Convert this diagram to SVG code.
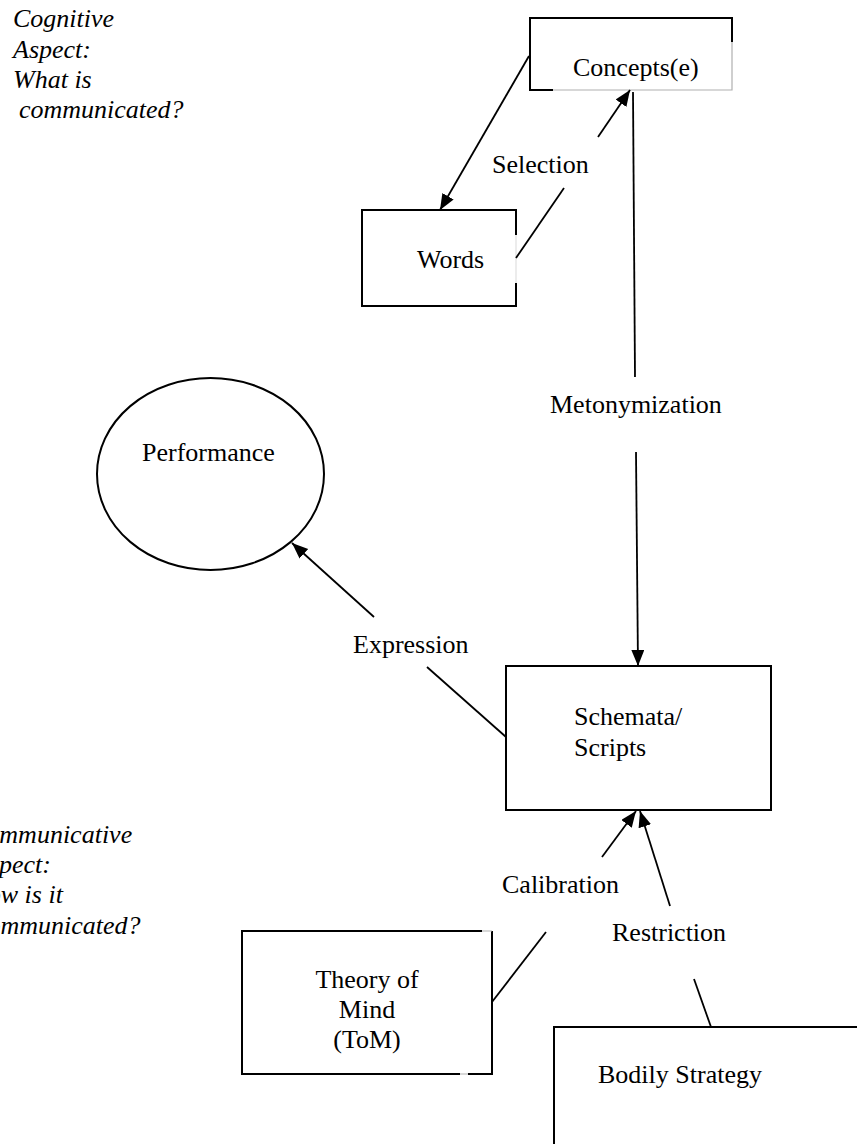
<svg xmlns="http://www.w3.org/2000/svg" width="857" height="1144" viewBox="0 0 857 1144">
  <style>
    .bg { fill: #ffffff; }
    .box { fill: none; stroke: #000; stroke-width: 2; }
    .faint { fill: none; stroke: #b0b0b0; stroke-width: 1.2; }
    .link { fill: none; stroke: #000; stroke-width: 1.8; }
    text { font-family: 'Liberation Serif', 'Times New Roman', Times, 'DejaVu Serif', serif; font-size: 26px; fill: #000; }
    .note { font-style: italic; }
  </style>
  <defs>
    <marker id="arrow" markerUnits="userSpaceOnUse" markerWidth="17" markerHeight="14" refX="16" refY="6.5" orient="auto">
      <path d="M0,0 L16,6.5 L0,13 z" fill="#000"/>
    </marker>
  </defs>

  <rect class="bg" x="0" y="0" width="857" height="1144"/>

  <!-- side notes -->
  <g id="note-cognitive" font-family="Liberation Serif, serif">
    <text class="note" x="13" y="27">Cognitive</text>
    <text class="note" x="13" y="57.5">Aspect:</text>
    <text class="note" x="13" y="88">What is</text>
    <text class="note" x="19" y="118">communicated?</text>
  </g>
  <g id="note-communicative" font-family="Liberation Serif, serif">
    <text class="note" x="-31" y="843">Communicative</text>
    <text class="note" x="-27" y="873">Aspect:</text>
    <text class="note" x="-31" y="903">How is it</text>
    <text class="note" x="-24" y="934">communicated?</text>
  </g>

  <!-- nodes -->
  <g id="concepts">
    <path class="box" d="M553,90 L530,90 L530,18 L732,18 L732,42"/>
    <path class="faint" d="M553,90 L732,90 L732,42"/>
    <text x="573" y="76">Concepts(e)</text>
  </g>

  <g id="words">
    <path class="box" d="M516,235 L516,210 L362,210 L362,306 L516,306 L516,283"/>
    <path class="faint" d="M516,235 L516,283" stroke-opacity="0.4"/>
    <text x="417" y="268">Words</text>
  </g>

  <g id="performance">
    <ellipse class="box" cx="210.5" cy="474" rx="113.5" ry="96"/>
    <text x="142" y="461">Performance</text>
  </g>

  <g id="schemata">
    <rect class="box" x="506" y="666" width="265" height="144"/>
    <text x="574" y="725">Schemata/</text>
    <text x="574" y="756">Scripts</text>
  </g>

  <g id="theory-of-mind">
    <path class="box" d="M482,931 L242,931 L242,1074 L460,1074"/>
    <path class="box" d="M468,1074 L492,1074 L492,931"/>
    <path class="faint" d="M482,931 L492,931 M460,1074 L468,1074"/>
    <text x="367" y="988" text-anchor="middle">Theory of</text>
    <text x="367" y="1018" text-anchor="middle">Mind</text>
    <text x="367" y="1048" text-anchor="middle">(ToM)</text>
  </g>

  <g id="bodily-strategy">
    <rect class="box" x="554" y="1027" width="330" height="160"/>
    <text x="598" y="1083">Bodily Strategy</text>
  </g>

  <!-- edge labels -->
  <g id="edge-labels">
    <text x="492" y="173">Selection</text>
    <text x="550" y="413">Metonymization</text>
    <text x="353" y="653">Expression</text>
    <text x="502" y="893">Calibration</text>
    <text x="612" y="941">Restriction</text>
  </g>

  <!-- connectors -->
  <g id="connectors">
    <!-- concepts to words -->
    <line class="link" x1="529" y1="56" x2="440" y2="210" marker-end="url(#arrow)"/>
    <!-- selection: words to concepts -->
    <line class="link" x1="516" y1="258" x2="564" y2="188"/>
    <line class="link" x1="598" y1="137" x2="630" y2="90" marker-end="url(#arrow)"/>
    <!-- metonymization: concepts to schemata -->
    <line class="link" x1="633" y1="92" x2="635" y2="377"/>
    <line class="link" x1="636" y1="452" x2="638" y2="666" marker-end="url(#arrow)"/>
    <!-- expression: schemata to performance -->
    <line class="link" x1="506" y1="737" x2="427" y2="667"/>
    <line class="link" x1="374" y1="617" x2="292" y2="543" marker-end="url(#arrow)"/>
    <!-- calibration: theory of mind to schemata -->
    <line class="link" x1="492" y1="1002" x2="546" y2="932"/>
    <line class="link" x1="602" y1="857" x2="636" y2="811" marker-end="url(#arrow)"/>
    <!-- restriction: bodily strategy to schemata -->
    <line class="link" x1="711" y1="1027" x2="694" y2="979"/>
    <line class="link" x1="670" y1="906" x2="640" y2="811" marker-end="url(#arrow)"/>
  </g>
</svg>
